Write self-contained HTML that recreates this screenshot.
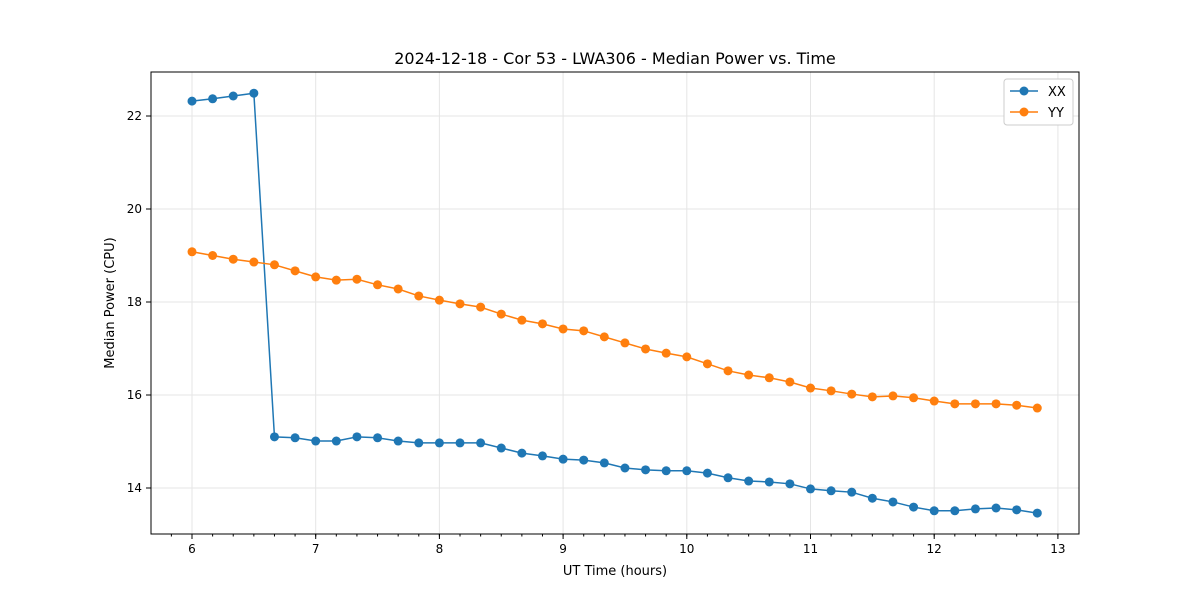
<!DOCTYPE html>
<html><head><meta charset="utf-8"><style>
body{margin:0;background:#fff;font-family:"Liberation Sans","DejaVu Sans",sans-serif}
</style></head><body>
<svg width="1200" height="600" xmlns="http://www.w3.org/2000/svg" font-family="DejaVu Sans, Liberation Sans, sans-serif">
<g id="grid"></g>
<g id="axes"></g>
<g id="series"></g>
<text x="615" y="64" text-anchor="middle" font-size="16">2024-12-18 - Cor 53 - LWA306 - Median Power vs. Time</text>
<text x="615" y="575" text-anchor="middle" font-size="13">UT Time (hours)</text>
<text transform="translate(114,303) rotate(-90)" text-anchor="middle" font-size="13">Median Power (CPU)</text>
<g>
<rect x="1004" y="79" width="69" height="46" fill="#fff" stroke="#ccc" rx="3"/>
<line x1="1010" y1="91" x2="1038" y2="91" stroke="#1f77b4" stroke-width="1.5"/><circle cx="1024" cy="91" r="4.5" fill="#1f77b4"/>
<text x="1048" y="96" font-size="13">XX</text>
<line x1="1010" y1="112" x2="1038" y2="112" stroke="#ff7f0e" stroke-width="1.5"/><circle cx="1024" cy="112" r="4.5" fill="#ff7f0e"/>
<text x="1048" y="117" font-size="13">YY</text>
</g>
</svg>
<script>
const xxValues=[22.32,22.37,22.43,22.49,15.10,15.08,15.01,15.01,15.10,15.08,15.01,14.97,14.97,14.97,14.97,14.86,14.75,14.69,14.62,14.60,14.54,14.43,14.39,14.37,14.37,14.32,14.22,14.15,14.13,14.09,13.98,13.94,13.91,13.78,13.70,13.59,13.51,13.51,13.55,13.57,13.53,13.46];
const yyValues=[19.08,19.00,18.92,18.86,18.80,18.67,18.54,18.47,18.49,18.37,18.28,18.13,18.04,17.96,17.89,17.74,17.61,17.53,17.42,17.38,17.25,17.12,16.99,16.90,16.82,16.67,16.52,16.43,16.37,16.28,16.15,16.09,16.02,15.96,15.98,15.94,15.87,15.81,15.81,15.81,15.78,15.72];
const xTicks=[6,7,8,9,10,11,12,13];
const yTicks=[14,16,18,20,22];
const NS="http://www.w3.org/2000/svg";
const L=151,R=1079,T=72,B=534;
const xs=h=>192+(h-6)*123.7;
const ys=v=>116+(22-v)*46.5;
function mk(tag,attrs,parent){const e=document.createElementNS(NS,tag);for(const k in attrs)e.setAttribute(k,attrs[k]);document.getElementById(parent).appendChild(e);return e;}
xTicks.forEach(t=>{const l=mk('line',{x1:xs(t),x2:xs(t),y1:T,y2:B,stroke:'#e5e5e5'},'grid');


mk('line',{x1:xs(t),x2:xs(t),y1:B,y2:B+5,stroke:'#000'},'axes');
const tx=mk('text',{x:xs(t),y:B+19,'text-anchor':'middle','font-size':12},'axes');tx.textContent=t;

});
for(let h=6-2/6;h<13.1;h+=1/6){const x=xs(h);if(x>L&&x<R)mk('line',{x1:x,x2:x,y1:B,y2:B+2.5,stroke:'#000'},'axes');}
yTicks.forEach(t=>{const l=mk('line',{x1:L,x2:R,y1:ys(t),y2:ys(t),stroke:'#e5e5e5'},'grid');


mk('line',{x1:L-5,x2:L,y1:ys(t),y2:ys(t),stroke:'#000'},'axes');
const tx=mk('text',{x:L-9,y:ys(t)+4,'text-anchor':'end','font-size':12},'axes');tx.textContent=t;

});
mk('rect',{x:L,y:T,width:R-L,height:B-T,fill:'none',stroke:'#000'},'axes');
function series(vals,color,name){const pts=vals.map((v,i)=>[xs(6+i/6),ys(v)]);
const p=mk('polyline',{points:pts.map(p=>p.join(',')).join(' '),fill:'none',stroke:color,'stroke-width':1.5},'series');


pts.forEach(q=>{const c=mk('circle',{cx:q[0],cy:q[1],r:4.5,fill:color},'series');

});}
series(xxValues,'#1f77b4','xx');
series(yyValues,'#ff7f0e','yy');
</script>
</body></html>
